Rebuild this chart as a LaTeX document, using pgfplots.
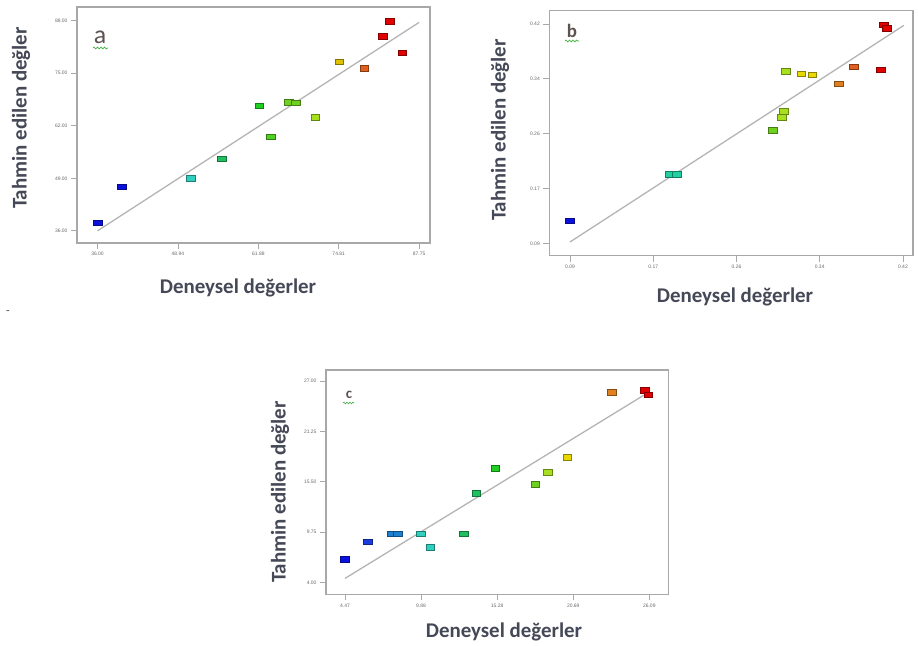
\documentclass[border=0pt]{standalone}
\usepackage{pgfplots}
\pgfplotsset{compat=1.18}
\usepackage{fontspec}
\setmainfont{Carlito}
\newfontfamily\tickfont{Liberation Sans}
\usetikzlibrary{decorations.pathmorphing}
\definecolor{framegray}{HTML}{A8A8A8}
\definecolor{tickgray}{HTML}{6A6A6A}
\definecolor{linegray}{HTML}{B4B4B4}
\definecolor{labelc}{HTML}{454856}
\definecolor{cblue}{HTML}{0A10E0}
\definecolor{cblue2}{HTML}{1A3CE0}
\definecolor{cblue3}{HTML}{2080D0}
\definecolor{ccyan}{HTML}{30D0C0}
\definecolor{cteal}{HTML}{20D0A0}
\definecolor{cgteal}{HTML}{20C060}
\definecolor{cgreen}{HTML}{20D020}
\definecolor{cgreen2}{HTML}{50D020}
\definecolor{cgreen3}{HTML}{70D020}
\definecolor{cyg}{HTML}{A8E020}
\definecolor{cyellow}{HTML}{E8D800}
\definecolor{cyellow2}{HTML}{E0C000}
\definecolor{corange}{HTML}{E08020}
\definecolor{corange2}{HTML}{E06020}
\definecolor{cred}{HTML}{E00000}
\definecolor{squig}{HTML}{40B040}
\pgfplotsset{
  panel/.style={scale only axis, anchor=south west, clip=false,
    axis line style={draw=framegray, line width=1.4bp},
    tick style={draw=framegray, line width=0.8bp},
    major tick length=6bp, tick align=outside, tick pos=left,
    ticklabel style={font=\tickfont\fontsize{5}{6}\selectfont, text=tickgray},
    /pgf/number format/assume math mode=true},
  pt/.style={only marks, mark=square*, mark size=2.8bp,
    mark options={xscale=1.55, fill=#1, draw=#1!60!black, line width=0.35bp, solid, rounded corners=0.8bp}},
  fitline/.style={no marks, draw=linegray, line width=1.3bp}
}
\begin{document}
\begin{tikzpicture}
\useasboundingbox (0,0) rectangle (918bp,646bp);
% ---------- panel a ----------
\begin{axis}[panel, at={(77bp,403bp)}, width=353bp, height=236bp,
  xmin=32.7, xmax=89.5, ymin=33.0, ymax=91.4,
  xtick={36,48.9375,61.875,74.8125,87.75},
  xticklabels={36.00,48.94,61.88,74.81,87.75},
  ytick={36,49,62,75,88},
  yticklabels={36.00,49.00,62.00,75.00,88.00}]
\addplot[fitline] coordinates {(36,36) (87.75,87.6)};
\addplot[pt=cblue] coordinates {(36.0,38.0) (39.9,46.9)};
\addplot[pt=ccyan] coordinates {(51.0,49.1)};
\addplot[pt=cgteal] coordinates {(56.0,53.9)};
\addplot[pt=cgreen] coordinates {(62.0,67.0)};
\addplot[pt=cgreen2] coordinates {(63.9,59.3)};
\addplot[pt=cgreen3] coordinates {(66.8,67.9) (67.9,67.7)};
\addplot[pt=cyg] coordinates {(71.0,64.1)};
\addplot[pt=cyellow2] coordinates {(74.9,77.9)};
\addplot[pt=corange2] coordinates {(78.9,76.2)};
\addplot[pt=cred] coordinates {(81.9,84.2) (83.0,87.9) (85.0,80.1)};
\end{axis}
% ---------- panel b ----------
\begin{axis}[panel, at={(549.3bp,390.3bp)}, width=363.7bp, height=245bp,
  xmin=0.0695, xmax=0.430, ymin=0.0714, ymax=0.440,
  xtick={0.09,0.1725,0.255,0.3375,0.42},
  xticklabels={0.09,0.17,0.26,0.34,0.42},
  ytick={0.09,0.1725,0.255,0.3375,0.42},
  yticklabels={0.09,0.17,0.26,0.34,0.42}]
\addplot[fitline] coordinates {(0.09,0.092) (0.421,0.418)};
\addplot[pt=cblue] coordinates {(0.09,0.124)};
\addplot[pt=cteal] coordinates {(0.189,0.194) (0.196,0.194)};
\addplot[pt=cgreen3] coordinates {(0.291,0.260)};
\addplot[pt=cyg] coordinates {(0.300,0.280) (0.302,0.289) (0.304,0.349)};
\addplot[pt=cyellow] coordinates {(0.319,0.345) (0.330,0.344)};
\addplot[pt=corange] coordinates {(0.356,0.330)};
\addplot[pt=corange2] coordinates {(0.371,0.356)};
\addplot[pt=cred] coordinates {(0.398,0.351) (0.401,0.419) (0.404,0.414)};
\end{axis}
% ---------- panel c ----------
\begin{axis}[panel, at={(326bp,51.7bp)}, width=342.3bp, height=224.3bp,
  xmin=3.12, xmax=27.44, ymin=2.63, ymax=28.29,
  xtick={4.47,9.875,15.28,20.685,26.09},
  xticklabels={4.47,9.88,15.28,20.69,26.09},
  ytick={4,9.75,15.5,21.25,27},
  yticklabels={4.00,9.75,15.50,21.25,27.00}]
\addplot[fitline] coordinates {(4.47,4.45) (26.05,25.75)};
\addplot[pt=cblue] coordinates {(4.47,6.67)};
\addplot[pt=cblue2] coordinates {(6.06,8.65)};
\addplot[pt=cblue3] coordinates {(7.8,9.57) (8.2,9.57)};
\addplot[pt=ccyan] coordinates {(9.87,9.57) (10.53,8.04)};
\addplot[pt=cgteal] coordinates {(12.92,9.57) (13.80,14.22)};
\addplot[pt=cgreen] coordinates {(15.13,17.04)};
\addplot[pt=cgreen3] coordinates {(17.99,15.21)};
\addplot[pt=cyg] coordinates {(18.89,16.59)};
\addplot[pt=cyellow] coordinates {(20.26,18.30)};
\addplot[pt=corange] coordinates {(23.44,25.74)};
\addplot[pt=cred] coordinates {(25.78,26.0) (26.02,25.47)};
\end{axis}
% ---------- labels ----------
\tikzset{lab/.style={font=\bfseries\fontsize{21}{25}\selectfont, text=labelc, inner sep=0pt}}
\node[lab, rotate=90] at (21bp,528bp) {Tahmin edilen değler};
\node[lab] at (238bp,358bp) {Deneysel değerler};
\node[lab, rotate=90] at (500bp,516bp) {Tahmin edilen değler};
\node[lab] at (735bp,349bp) {Deneysel değerler};
\node[lab, rotate=90] at (280bp,154bp) {Tahmin edilen değler};
\node[lab] at (504bp,14bp) {Deneysel değerler};
% panel letters
\node[font=\fontsize{26}{30}\selectfont, text=labelc!80!brown, inner sep=0pt] at (100bp,609bp) {a};
\node[font=\bfseries\fontsize{19}{22}\selectfont, text=labelc!80!brown, inner sep=0pt] at (572bp,615bp) {b};
\node[font=\bfseries\fontsize{15}{17}\selectfont, text=labelc!80!brown, inner sep=0pt] at (349bp,251bp) {c};
\draw[squig, line width=0.7bp, decorate, decoration={snake, segment length=3.5bp, amplitude=0.9bp}] (93bp,598bp) -- (108bp,598bp);
\draw[squig, line width=0.7bp, decorate, decoration={snake, segment length=3.5bp, amplitude=0.9bp}] (565bp,605bp) -- (579bp,605bp);
\draw[squig, line width=0.6bp, decorate, decoration={snake, segment length=3bp, amplitude=0.8bp}] (343bp,243bp) -- (354bp,243bp);
\node[font=\fontsize{12}{14}\selectfont, text=labelc, inner sep=0pt] at (8bp,333bp) {-};
\end{tikzpicture}
\end{document}
